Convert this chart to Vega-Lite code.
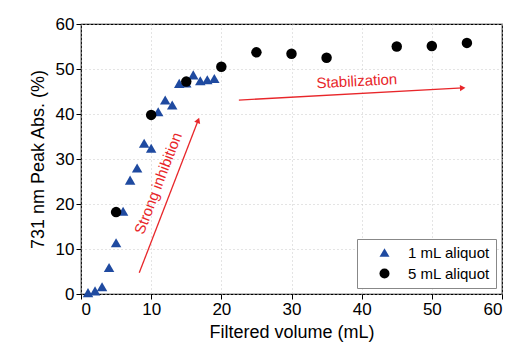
{
  "$schema": "https://vega.github.io/schema/vega-lite/v6.json",
  "width": 421,
  "height": 270,
  "autosize": {"type": "none"},
  "padding": {"left": 81, "top": 24, "right": 13, "bottom": 61},
  "background": "white",
  "config": {
    "font": "Liberation Sans",
    "view": {"stroke": "black", "strokeWidth": 1.2},
    "axis": {"labelFont": "Liberation Sans", "titleFont": "Liberation Sans", "labelColor": "black", "titleColor": "black", "titleFontWeight": "normal", "domain": false, "tickColor": "black"}
  },
  "title": {"text": "ABTS", "fontSize": 18, "fontWeight": "normal", "font": "Liberation Sans", "baseline": "alphabetic", "offset": 9, "anchor": "middle", "dx": -18, "color": "black"},
  "datasets": {
    "pts": [
      {"v": 1, "a": 0.3, "s": "1 mL aliquot"},
      {"v": 2, "a": 0.7, "s": "1 mL aliquot"},
      {"v": 3, "a": 1.6, "s": "1 mL aliquot"},
      {"v": 4, "a": 5.9, "s": "1 mL aliquot"},
      {"v": 5, "a": 11.4, "s": "1 mL aliquot"},
      {"v": 6, "a": 18.4, "s": "1 mL aliquot"},
      {"v": 7, "a": 25.3, "s": "1 mL aliquot"},
      {"v": 8, "a": 28.0, "s": "1 mL aliquot"},
      {"v": 9, "a": 33.5, "s": "1 mL aliquot"},
      {"v": 10, "a": 32.4, "s": "1 mL aliquot"},
      {"v": 11, "a": 40.5, "s": "1 mL aliquot"},
      {"v": 12, "a": 43.1, "s": "1 mL aliquot"},
      {"v": 13, "a": 42.0, "s": "1 mL aliquot"},
      {"v": 14, "a": 46.8, "s": "1 mL aliquot"},
      {"v": 15, "a": 46.9, "s": "1 mL aliquot"},
      {"v": 16, "a": 48.7, "s": "1 mL aliquot"},
      {"v": 17, "a": 47.4, "s": "1 mL aliquot"},
      {"v": 18, "a": 47.6, "s": "1 mL aliquot"},
      {"v": 19, "a": 47.9, "s": "1 mL aliquot"},
      {"v": 5, "a": 18.2, "s": "5 mL aliquot"},
      {"v": 10, "a": 39.8, "s": "5 mL aliquot"},
      {"v": 15, "a": 47.2, "s": "5 mL aliquot"},
      {"v": 20, "a": 50.5, "s": "5 mL aliquot"},
      {"v": 25, "a": 53.7, "s": "5 mL aliquot"},
      {"v": 30, "a": 53.4, "s": "5 mL aliquot"},
      {"v": 35, "a": 52.5, "s": "5 mL aliquot"},
      {"v": 45, "a": 55.0, "s": "5 mL aliquot"},
      {"v": 50, "a": 55.1, "s": "5 mL aliquot"},
      {"v": 55, "a": 55.8, "s": "5 mL aliquot"}
    ],
    "arrowA": [{"x1": 8.3, "y1": 4.7, "x2": 16.7, "y2": 38.6}],
    "arrowB": [{"x1": 22.5, "y1": 43.1, "x2": 54.4, "y2": 45.8}],
    "labA": [{"x": 11.0, "y": 24.6, "t": "Strong inhibition"}],
    "labB": [{"x": 39.3, "y": 47.3, "t": "Stabilization"}]
  },
  "layer": [
    {
      "data": {"name": "pts"},
      "mark": {"type": "point", "filled": true, "opacity": 1, "size": 110},
      "encoding": {
        "x": {"field": "v", "type": "quantitative", "scale": {"domain": [0, 60], "nice": false, "zero": false},
          "axis": {"orient": "bottom", "title": "Filtered volume (mL)", "titleFontSize": 18, "titlePadding": 6, "labelFontSize": 17, "labelPadding": 2, "values": [0,5,10,15,20,25,30,35,40,45,50,55,60], "labelExpr": "datum.value % 10 === 0 ? datum.label : ''", "tickSize": {"condition": {"test": "datum.value % 10 === 0", "value": 5}, "value": 3}, "grid": true, "gridColor": "#c8c8c8", "gridDash": [1, 3], "gridWidth": 1}},
        "y": {"field": "a", "type": "quantitative", "scale": {"domain": [0, 60], "nice": false, "zero": false},
          "axis": {"orient": "left", "title": "731 nm Peak Abs. (%)", "titleFontSize": 18, "titlePadding": 8, "labelFontSize": 17, "labelPadding": 2, "values": [0,5,10,15,20,25,30,35,40,45,50,55,60], "labelExpr": "datum.value % 10 === 0 ? datum.label : ''", "tickSize": {"condition": {"test": "datum.value % 10 === 0", "value": 5}, "value": 3}, "grid": true, "gridColor": "#c8c8c8", "gridDash": [1, 3], "gridWidth": 1}},
        "shape": {"field": "s", "type": "nominal", "scale": {"domain": ["1 mL aliquot", "5 mL aliquot"], "range": ["triangle-up", "circle"]},
          "legend": {"title": null, "orient": "bottom-right", "offset": 6, "labelFontSize": 15, "labelFont": "Liberation Sans", "labelColor": "black", "symbolSize": 100, "strokeColor": "#888888", "padding": 6, "rowPadding": 5, "fillColor": "white", "labelOffset": 16, "symbolOffset": 14}},
        "color": {"field": "s", "type": "nominal", "scale": {"domain": ["1 mL aliquot", "5 mL aliquot"], "range": ["#1f4aa0", "#000000"]}}
      }
    },
    {
      "data": {"name": "arrowA"},
      "mark": {"type": "rule", "color": "#e8262a", "strokeWidth": 1.3},
      "encoding": {"x": {"field": "x1", "type": "quantitative"}, "y": {"field": "y1", "type": "quantitative"}, "x2": {"field": "x2"}, "y2": {"field": "y2"}}
    },
    {
      "data": {"name": "arrowA"},
      "mark": {"type": "point", "shape": "triangle-right", "filled": true, "color": "#e8262a", "opacity": 1, "size": 40, "angle": 291},
      "encoding": {"x": {"field": "x2", "type": "quantitative"}, "y": {"field": "y2", "type": "quantitative"}}
    },
    {
      "data": {"name": "arrowB"},
      "mark": {"type": "rule", "color": "#e8262a", "strokeWidth": 1.3},
      "encoding": {"x": {"field": "x1", "type": "quantitative"}, "y": {"field": "y1", "type": "quantitative"}, "x2": {"field": "x2"}, "y2": {"field": "y2"}}
    },
    {
      "data": {"name": "arrowB"},
      "mark": {"type": "point", "shape": "triangle-right", "filled": true, "color": "#e8262a", "opacity": 1, "size": 40, "angle": 357},
      "encoding": {"x": {"field": "x2", "type": "quantitative"}, "y": {"field": "y2", "type": "quantitative"}}
    },
    {
      "data": {"name": "labA"},
      "mark": {"type": "text", "color": "#e8262a", "fontSize": 15, "angle": 291, "font": "Liberation Sans"},
      "encoding": {"x": {"field": "x", "type": "quantitative"}, "y": {"field": "y", "type": "quantitative"}, "text": {"field": "t"}}
    },
    {
      "data": {"name": "labB"},
      "mark": {"type": "text", "color": "#e8262a", "fontSize": 15, "angle": 357, "font": "Liberation Sans"},
      "encoding": {"x": {"field": "x", "type": "quantitative"}, "y": {"field": "y", "type": "quantitative"}, "text": {"field": "t"}}
    }
  ]
}
